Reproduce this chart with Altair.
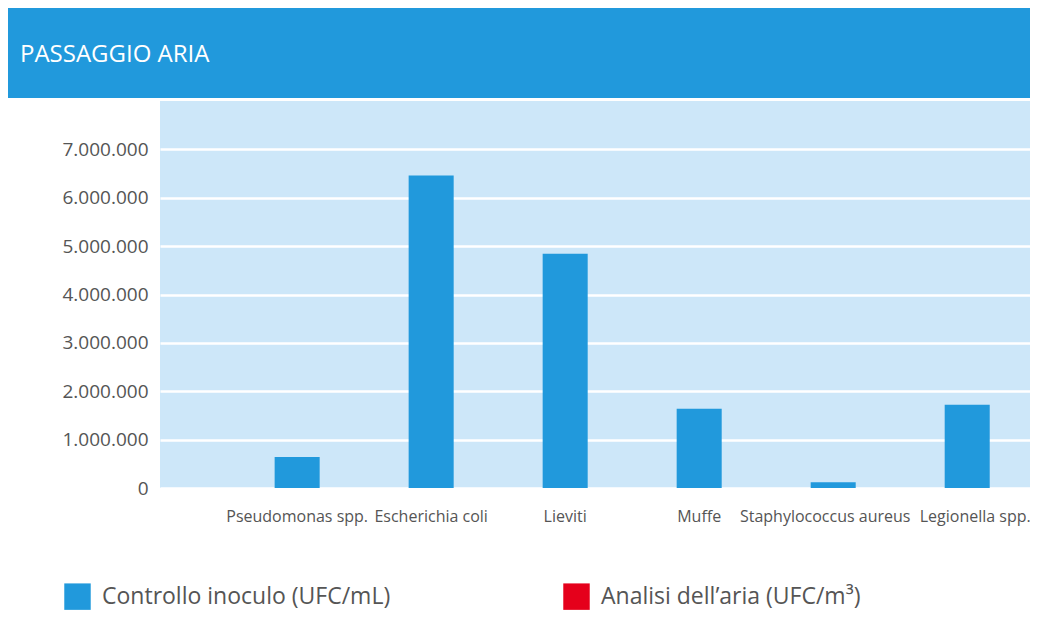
import altair as alt
import pandas as pd

categories = ["Pseudomonas spp.", "Escherichia coli", "Lieviti", "Muffe",
              "Staphylococcus aureus", "Legionella spp."]
controllo = [640000, 6460000, 4840000, 1640000, 120000, 1720000]
analisi = [0, 0, 0, 0, 0, 0]
series_names = ["Controllo inoculo (UFC/mL)", "Analisi dell\u2019aria (UFC/m\u00b3)"]
series_colors = ["#2199dc", "#e5001b"]
y_ticks = [0, 1000000, 2000000, 3000000, 4000000, 5000000, 6000000, 7000000]
title_text = "PASSAGGIO ARIA"

rows = []
for c, v in zip(categories, controllo):
    rows.append({"cat": c, "val": v, "serie": series_names[0]})
for c, v in zip(categories, analisi):
    rows.append({"cat": c, "val": v, "serie": series_names[1]})
df = pd.DataFrame(rows)

FONT = "Open Sans"
W, H = 870, 387

label_offset = {
    "condition": [
        {"test": "datum.value == 'Staphylococcus aureus'", "value": -8},
        {"test": "datum.value == 'Legionella spp.'", "value": 8},
    ],
    "value": 0,
}

bars = alt.Chart(df).mark_bar().encode(
    x=alt.X("cat:N", sort=categories, title=None,
            scale=alt.Scale(paddingInner=0.664, paddingOuter=0.578, align=0.74),
            axis=alt.Axis(labelAngle=0, labelFont=FONT, labelFontSize=16,
                          labelColor="#555555", labelPadding=20, ticks=False,
                          domain=False, labelLimit=400, grid=False,
                          labelOffset=label_offset)),
    y=alt.Y("val:Q", stack=None, title=None,
            scale=alt.Scale(domain=[0, 8000000], nice=False),
            axis=alt.Axis(values=y_ticks, labelFont=FONT, labelFontSize=19,
                          labelColor="#555555", labelPadding=12, ticks=False,
                          domain=False, gridColor="#ffffff", gridWidth=2.5,
                          gridOpacity=1,
                          labelExpr="replace(format(datum.value, ','), regexp(',', 'g'), '.')")),
    color=alt.Color("serie:N", title=None,
                    scale=alt.Scale(domain=series_names, range=series_colors),
                    legend=alt.Legend(orient="none", legendX=-96, legendY=482,
                                      direction="horizontal", symbolType="square",
                                      symbolSize=700, symbolStrokeWidth=0,
                                      labelFont=FONT, labelFontSize=23,
                                      labelColor="#555555", labelOffset=11,
                                      columnPadding=172, labelLimit=500)),
)

hdr_df = pd.DataFrame({"t": [title_text]})
header_rect = alt.Chart(hdr_df).mark_rect(color="#2199dc").encode(
    x=alt.value(-152), x2=alt.value(W), y=alt.value(-94), y2=alt.value(-3)
)
header_text = alt.Chart(hdr_df).mark_text(
    align="left", baseline="middle", font=FONT, fontSize=24, color="#ffffff"
).encode(x=alt.value(-140), y=alt.value(-46), text="t:N")

chart = alt.layer(bars, header_rect, header_text).properties(
    width=W, height=H,
    autosize=alt.AutoSizeParams(type="none"),
    padding={"left": 152, "top": 93, "right": 0, "bottom": 130},
    background="#ffffff",
).configure_view(fill="#cde7f9", stroke=None)

chart.save("out.html", embed_options={"renderer": "svg", "actions": False})
